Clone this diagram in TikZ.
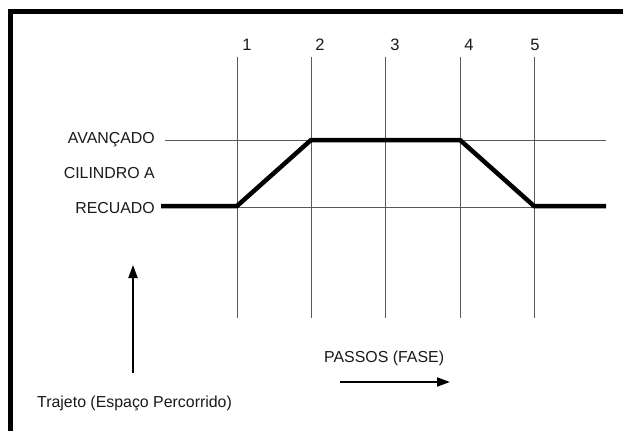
\documentclass[tikz,border=0pt]{standalone}
\usepackage{fontspec}
\setmainfont{Liberation Sans}
\usetikzlibrary{arrows.meta}
\begin{document}
\begin{tikzpicture}[x=1pt,y=-1pt,
 grid/.style={line width=0.9pt,black!65},
 profile/.style={line width=4.5pt,line join=miter},
 lbl/.style={font=\fontsize{15.9}{18}\selectfont,inner sep=0pt,text=black!90},
 num/.style={font=\fontsize{16.5}{18}\selectfont,inner sep=0pt,text=black!90},
 border/.style={line width=5pt},
 arr/.style={line width=2pt,-{Triangle[length=13pt,width=9pt]}}]
\useasboundingbox (0,0) rectangle (623,431);
\draw[border] (10.5,431) -- (10.5,11.5) -- (623,11.5);
% step lines and labels
\foreach \i/\x/\lx in {1/237/247,2/311/320,3/385/395,4/460/469,5/534/535}{
  \coordinate (t\i) at (\x,57);
  \coordinate (b\i) at (\x,318);
  \draw[grid] (t\i) -- (b\i);
  \node[num] (n\i) at (\lx,45) {\i};
}
% level lines
\coordinate (avL) at (165,140);
\coordinate (avR) at (606,140);
\coordinate (reL) at (165,207);
\coordinate (reR) at (606,207);
\draw[grid] (avL) -- (avR);
\draw[grid] (reL) -- (reR);
% profile
\coordinate (p0) at (161,206);
\coordinate (p1) at (237,206);
\coordinate (p2) at (311,140);
\coordinate (p4) at (460,140);
\coordinate (p5) at (534,206);
\coordinate (p6) at (606,206);
\draw[profile] (p0) -- (p1) -- (p2) -- (p4) -- (p5) -- (p6);
% level labels
\node[lbl,anchor=east] (av) at (155,140) {AVANÇADO};
\node[lbl,anchor=east] (cil) at (155,173) {CILINDRO A};
\node[lbl,anchor=east] (rec) at (155,208) {RECUADO};
% axes arrows
\coordinate (upS) at (133,373);
\coordinate (upE) at (133,265);
\draw[arr] (upS) -- (upE);
\node[lbl,anchor=west] (traj) at (37,403) {Trajeto (Espaço Percorrido)};
\node[lbl,anchor=west] (pas) at (324,358) {PASSOS (FASE)};
\coordinate (rtS) at (340,382);
\coordinate (rtE) at (450,382);
\draw[arr] (rtS) -- (rtE);
\end{tikzpicture}
\end{document}
